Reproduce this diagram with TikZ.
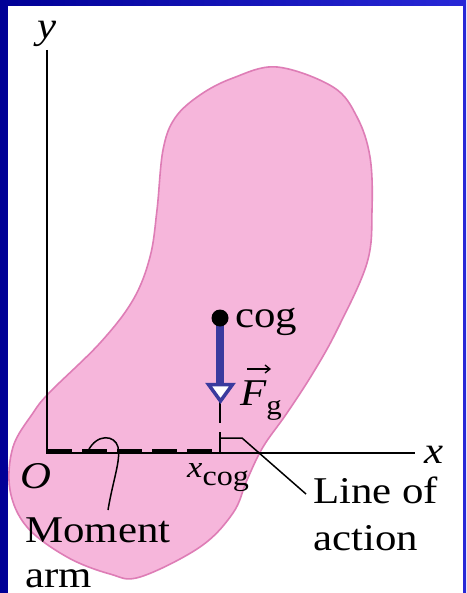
\documentclass[tikz,border=0pt]{standalone}
\usepackage{fontspec}
\usepackage{amsmath}
\usepackage{graphicx}
\usetikzlibrary{arrows.meta}
\setmainfont{Liberation Serif}
\newcommand{\stx}[1]{\scalebox{1.19}[1.05]{#1}}
\definecolor{bgdark}{RGB}{0,0,150}
\definecolor{bglight}{RGB}{40,40,215}
\definecolor{blobfill}{RGB}{246,182,219}
\definecolor{blobline}{RGB}{222,125,182}
\definecolor{forceblue}{RGB}{58,58,158}
\tikzset{
  lbl/.style={inner sep=0pt, anchor=base west, font={\fontsize{36}{40}\selectfont}},
  axis/.style={line width=2pt, black},
  thinline/.style={line width=1.5pt, black},
}
\begin{document}
\begin{tikzpicture}[x=1pt, y=-1pt]
\useasboundingbox (0,0) rectangle (466,593);
% background
\shade[left color=bgdark, right color=bglight] (0,0) rectangle (466,593);
\fill[white] (8,6) rectangle (463,593);
% blob
\draw[blobline, line width=1.6pt, fill=blobfill] plot[smooth cycle, tension=0.6] coordinates {
 (277,67) (333,87) (357,117) (370,157) (372,210) (367,263) (337,330) (313,373)
 (287,413) (263,447) (247,480) (233,513) (200,547) (140,577) (110,574) (67,557)
 (27,527) (10,490) (13,447) (33,413) (50,392) (100,343) (133,300) (150,257)
 (157,210) (163,150) (175,118) (200,95) (233,78)};
% axes
\coordinate (O) at (47,453);
\coordinate (ytop) at (47,50);
\coordinate (xend) at (415,453);
\draw[axis] (ytop) -- (O) -- (xend);
% moment arm (dashed)
\coordinate (ma0) at (47,450);
\coordinate (ma1) at (214,450);
\draw[line width=3pt, dash pattern=on 25pt off 10pt] (ma0) -- (ma1);
% line of action
\coordinate (apex) at (220,402);
\coordinate (la1) at (220,423);
\coordinate (la2) at (220,432);
\coordinate (foot) at (220,452);
\draw[thinline] (apex) -- (la1);
\draw[thinline] (la2) -- (foot);
% right angle + leader to "Line of action"
\coordinate (ra0) at (220,438);
\coordinate (ra1) at (242,438);
\coordinate (leadend) at (306,494);
\draw[thinline, line join=miter] (ra0) -- (ra1) -- (leadend);
% moment arm leader
\coordinate (mlead) at (108,510);
\coordinate (mhook) at (88,451);
\draw[thinline] (mlead) .. controls (113,480) and (121,460) .. (118,447)
   .. controls (115,435) and (97,433) .. (mhook);
% force bar and arrowhead
\coordinate (cog) at (220,318);
\coordinate (barend) at (220,385);
\draw[forceblue, line width=8pt] (cog) -- (barend);
\draw[forceblue, line width=3.5pt, fill=white, line join=miter]
   (208.5,384.5) -- (232.5,384.5) -- (220.5,401) -- cycle;
\fill[black] (cog) circle (8.5);
% labels
\node[lbl, anchor=base] (ylab) at (47,39) {\stx{\itshape y}};
\node[lbl] (xlab) at (424,463) {\stx{\itshape x}};
\node[lbl] (Olab) at (20,488) {\stx{\itshape O}};
\node[lbl] (coglab) at (235,327) {\stx{cog}};
\node[lbl] (Flab) at (240,405) {\stx{\itshape F}\raisebox{-9pt}{\stx{\fontsize{26}{28}\selectfont g}}};
\coordinate (farr0) at (247,369);
\coordinate (farr1) at (271,369);
\draw[line width=1.3pt, -{Straight Barb[length=5pt,width=8pt]}] (farr0) -- (farr1);
\node[lbl, font={\fontsize{29}{32}\selectfont}] (xcog) at (187,477) {\stx{\itshape x}\raisebox{-8pt}{\stx{\fontsize{27}{30}\selectfont cog}}};
\node[lbl] (mom1) at (25,542) {\stx{Moment}};
\node[lbl] (mom2) at (25,587) {\stx{arm}};
\node[lbl] (loa1) at (313,503) {\stx{Line of}};
\node[lbl] (loa2) at (313,550) {\stx{action}};
\end{tikzpicture}
\end{document}
